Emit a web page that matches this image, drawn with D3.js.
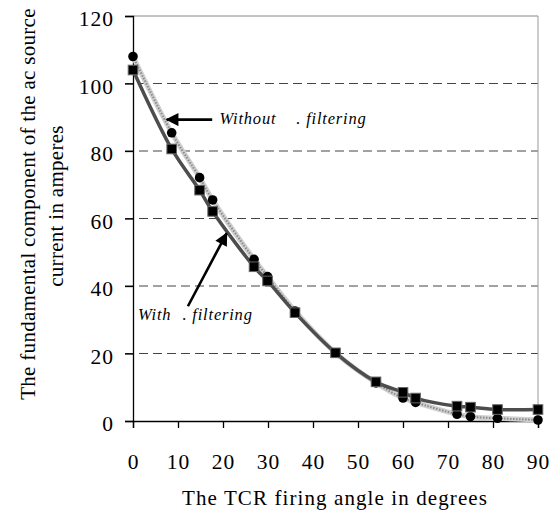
<!DOCTYPE html>
<html>
<head>
<meta charset="utf-8">
<script src="https://cdn.jsdelivr.net/npm/d3@7"></script>
<style>
  body { margin: 0; background: #fff; }
  svg { display: block; }
  svg text { font-family: "Times New Roman", "Liberation Serif", Times, serif; }
</style>
</head>
<body>
<div id="myChart"></div>
<script>
// firing angles (deg) and fundamental current (A)
const angles = [0, 8.6, 14.8, 17.7, 26.9, 29.9, 36, 45, 54, 60, 62.8, 72, 75, 81, 90];
const withFilter = [104, 80.6, 68.4, 62.1, 45.7, 41.5, 32.1, 20.2, 11.6, 8.5, 6.8, 4.4, 4.1, 3.4, 3.4];
const withoutFilter = [108, 85.4, 72.1, 65.5, 47.9, 42.8, 32.6, 20.2, 11.3, 6.8, 5.5, 2.0, 1.3, 0.8, 0.3];
const xTicks = [0, 10, 20, 30, 40, 50, 60, 70, 80, 90];
const yTicks = [0, 20, 40, 60, 80, 100, 120];

const margin = { top: 16, right: 21, bottom: 91, left: 133 },
  width = 559 - margin.left - margin.right,
  height = 512 - margin.top - margin.bottom;

const svgRoot = d3
  .select("#myChart")
  .append("svg")
  .attr("width", 559)
  .attr("height", 512);

const defs = svgRoot.append("defs");
defs
  .append("marker")
  .attr("id", "head")
  .attr("viewBox", "0 0 10 10")
  .attr("refX", 9)
  .attr("refY", 5)
  .attr("markerWidth", 5.5)
  .attr("markerHeight", 5)
  .attr("markerUnits", "strokeWidth")
  .attr("orient", "auto")
  .append("path")
  .attr("d", "M0,0 L10,5 L0,10 Z")
  .attr("fill", "#000");

const svg = svgRoot
  .append("g")
  .attr("transform", "translate(" + margin.left + "," + margin.top + ")");

const x = d3.scaleLinear().domain([0, 90]).range([0, width]);
const y = d3.scaleLinear().domain([0, 120]).range([height, 0]);

// dashed gridlines
svg
  .selectAll(".grid")
  .data(yTicks.filter((d) => d > 0 && d < 120))
  .enter()
  .append("line")
  .attr("x1", -8)
  .attr("x2", width)
  .attr("y1", (d) => y(d))
  .attr("y2", (d) => y(d))
  .attr("stroke", "#444")
  .attr("stroke-width", 1)
  .attr("stroke-dasharray", "9,5");

// plot frame top / right
svg.append("line").attr("x1", 0).attr("x2", width).attr("y1", 0).attr("y2", 0)
  .attr("stroke", "#888").attr("stroke-width", 1);
svg.append("line").attr("x1", width).attr("x2", width).attr("y1", 0).attr("y2", height)
  .attr("stroke", "#999").attr("stroke-width", 1);

// axes
const yAxis = svg
  .append("g")
  .call(d3.axisLeft(y).tickValues(yTicks).tickSize(8).tickPadding(11));
const xAxis = svg
  .append("g")
  .attr("transform", "translate(0," + height + ")")
  .call(d3.axisBottom(x).tickValues(xTicks).tickSize(7).tickPadding(26));
[xAxis, yAxis].forEach((g) => {
  g.attr("font-family", null).attr("font-size", null);
  g.select(".domain").attr("stroke", "#000").attr("stroke-width", 1.3);
  g.selectAll(".tick line").attr("stroke", "#000").attr("stroke-width", 1.3);
  g.selectAll("text")
    .style("font-size", "21.5px")
    .style("letter-spacing", "1px")
    .attr("fill", "#000");
});
yAxis.selectAll("text").attr("dy", "0.45em");

const line = d3
  .line()
  .x((d) => x(d[0]))
  .y((d) => y(d[1]))
  .curve(d3.curveCatmullRom.alpha(0.5));

const ptsWithout = angles.map((a, i) => [a, withoutFilter[i]]);
const ptsWith = angles.map((a, i) => [a, withFilter[i]]);

// without filtering: light textured line
svg.append("path").datum(ptsWithout).attr("d", line)
  .attr("fill", "none").attr("stroke", "#cfcfcf").attr("stroke-width", 5);
svg.append("path").datum(ptsWithout).attr("d", line)
  .attr("fill", "none").attr("stroke", "#8a8a8a").attr("stroke-width", 2)
  .attr("stroke-dasharray", "1.5,1.5");

// with filtering: dark solid line
svg.append("path").datum(ptsWith).attr("d", line)
  .attr("fill", "none").attr("stroke", "#4d4d4d").attr("stroke-width", 3.5);

// markers
svg
  .selectAll(".circ")
  .data(ptsWithout)
  .enter()
  .append("circle")
  .attr("cx", (d) => x(d[0]))
  .attr("cy", (d) => y(d[1]))
  .attr("r", 4.8)
  .attr("fill", "#000");

svg
  .selectAll(".sq")
  .data(ptsWith)
  .enter()
  .append("rect")
  .attr("x", (d) => x(d[0]) - 4.8)
  .attr("y", (d) => y(d[1]) - 4.8)
  .attr("width", 9.6)
  .attr("height", 9.6)
  .attr("fill", "#000")
  .attr("stroke", "#666")
  .attr("stroke-width", 1);

// annotations (in data units so they follow the scales)
const annoFont = "16.5px";
svg.append("line")
  .attr("x1", x(17.6)).attr("y1", y(89.3))
  .attr("x2", x(7.5)).attr("y2", y(89.3))
  .attr("stroke", "#000").attr("stroke-width", 2.6)
  .attr("marker-end", "url(#head)");
svg.append("text").attr("x", x(19.2)).attr("y", y(88))
  .style("font-style", "italic").style("font-size", annoFont)
  .style("letter-spacing", "0.8px").text("Without");
svg.append("text").attr("x", x(36.3)).attr("y", y(88))
  .style("font-style", "italic").style("font-size", annoFont)
  .style("letter-spacing", "0.8px").text(". filtering");

svg.append("line")
  .attr("x1", x(12.2)).attr("y1", y(34))
  .attr("x2", x(20.8)).attr("y2", y(55.6))
  .attr("stroke", "#000").attr("stroke-width", 2.6)
  .attr("marker-end", "url(#head)");
svg.append("text").attr("x", x(1.1)).attr("y", y(30))
  .style("font-style", "italic").style("font-size", annoFont)
  .style("letter-spacing", "0.8px").text("With");
svg.append("text").attr("x", x(11)).attr("y", y(30))
  .style("font-style", "italic").style("font-size", annoFont)
  .style("letter-spacing", "0.8px").text(". filtering");

// axis titles
svgRoot.append("text")
  .attr("x", 335).attr("y", 505)
  .attr("text-anchor", "middle")
  .style("font-size", "21px")
  .style("letter-spacing", "1.1px")
  .text("The TCR firing angle in degrees");

svgRoot.append("text")
  .attr("transform", "translate(35,204) rotate(-90)")
  .attr("text-anchor", "middle")
  .style("font-size", "21px")
  .style("letter-spacing", "0.3px")
  .text("The fundamental component of the ac source");
svgRoot.append("text")
  .attr("transform", "translate(63,206) rotate(-90)")
  .attr("text-anchor", "middle")
  .style("font-size", "21px")
  .style("letter-spacing", "0.3px")
  .text("current in amperes");
</script>
</body>
</html>
